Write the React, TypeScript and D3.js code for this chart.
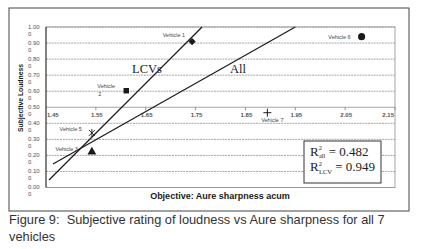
import * as d3 from 'd3';

// values
const vehicles = ['Vehicle 1', 'Vehicle 2', 'Vehicle 3', 'Vehicle 5', 'Vehicle 6', 'Vehicle 7'];
const sharpness = [1.743, 1.611, 1.542, 1.542, 2.083, 1.894];
const loudness = [0.909, 0.603, 0.222, 0.34, 0.94, 0.466];
const markers = ['diamond', 'square', 'triangle', 'asterisk', 'circle', 'plus'];

// trend line end points (sharpness, loudness)
const lcvFitX = [1.456, 1.763];
const lcvFitY = [0.047, 1.0];
const allFitX = [1.464, 1.95];
const allFitY = [0.147, 1.0];

const xTicks = [1.45, 1.55, 1.65, 1.75, 1.85, 1.95, 2.05, 2.15];
const yTicks = [0, 0.1, 0.2, 0.3, 0.4, 0.5, 0.6, 0.7, 0.8, 0.9, 1.0];

const W = 422;
const H = 249;
const plot = { left: 46, right: 395, top: 27, bottom: 187.5 };

// where each label sits relative to its marker
const labelPos: Record<string, { dx: number; dy: number; anchor: string; lines?: string[] }> = {
  'Vehicle 1': { dx: -7, dy: -5, anchor: 'end' },
  'Vehicle 2': { dx: -29, dy: -3, anchor: 'start', lines: ['Vehicle', '2'] },
  'Vehicle 3': { dx: -14, dy: -1, anchor: 'end' },
  'Vehicle 5': { dx: -10, dy: -2, anchor: 'end' },
  'Vehicle 6': { dx: -11, dy: 2, anchor: 'end' },
  'Vehicle 7': { dx: 5, dy: 9, anchor: 'middle' },
};

function Marker({ type, x, y }: { type: string; x: number; y: number }) {
  const fill = '#1a1a1a';
  if (type === 'plus') {
    return <path d={`M${x - 4},${y}H${x + 4}M${x},${y - 4}V${y + 4}`} stroke={fill} strokeWidth={1} fill="none" />;
  }
  if (type === 'asterisk') {
    return (
      <path
        d={`M${x - 3},${y - 3}L${x + 3},${y + 3}M${x - 3},${y + 3}L${x + 3},${y - 3}M${x},${y - 4}V${y + 4}`}
        stroke={fill}
        strokeWidth={0.9}
        fill="none"
      />
    );
  }
  const sym = {
    diamond: d3.symbol().type(d3.symbolSquare).size(26),
    square: d3.symbol().type(d3.symbolSquare).size(30),
    triangle: d3.symbol().type(d3.symbolTriangle).size(34),
    circle: d3.symbol().type(d3.symbolCircle).size(40),
  }[type]!;
  const rot = type === 'diamond' ? ' rotate(45)' : '';
  return <path d={sym() ?? ''} transform={`translate(${x},${y})${rot}`} fill={fill} />;
}

export default function App() {
  const xScale = d3.scaleLinear().domain([1.45, 2.15]).range([plot.left, plot.right]);
  const yScale = d3.scaleLinear().domain([0, 1]).range([plot.bottom, plot.top]);
  const line = d3.line<[number, number]>()
    .x((d) => xScale(d[0]))
    .y((d) => yScale(d[1]));
  const lcvPts = lcvFitX.map((x, i) => [x, lcvFitY[i]] as [number, number]);
  const allPts = allFitX.map((x, i) => [x, allFitY[i]] as [number, number]);
  const axisY = yScale(0.5);
  const sans = "'Liberation Sans', Arial, sans-serif";
  const serif = "'Liberation Serif', 'Times New Roman', serif";

  return (
    <svg
      width={W}
      height={H}
      viewBox={`0 0 ${W} ${H}`}
      style={{ position: 'absolute', left: 0, top: 0, background: '#fff' }}
    >
      <rect x={0} y={0} width={W} height={H} fill="#fff" />
      {/* chart frame */}
      <rect x={9} y={8} width={400} height={203} fill="#fff" stroke="#444" strokeWidth={1} />

      {/* plot area + gridlines */}
      <rect
        x={plot.left}
        y={plot.top}
        width={plot.right - plot.left}
        height={plot.bottom - plot.top}
        fill="#fff"
        stroke="#8c8c8c"
        strokeWidth={0.8}
      />
      {yTicks.map((t) => (
        <g key={`y-${t}`}>
          <line
            x1={plot.left}
            x2={plot.right}
            y1={yScale(t)}
            y2={yScale(t)}
            stroke="#8f8f8f"
            strokeWidth={0.8}
            strokeDasharray={t === 0.5 ? undefined : '2 0.8'}
          />
          <text x={28} y={yScale(t) + 1.5} fontFamily={sans} fontSize={6} fill="#555">
            {t.toFixed(2)}
          </text>
          <text x={28} y={yScale(t) + 8.5} fontFamily={sans} fontSize={6} fill="#555">
            0
          </text>
        </g>
      ))}
      <line x1={plot.left} x2={plot.left} y1={plot.top} y2={plot.bottom} stroke="#333" strokeWidth={1} />

      {/* x axis crossing at 0.5 */}
      {xTicks.map((t, i) => (
        <g key={`x-${t}`}>
          <line x1={xScale(t)} x2={xScale(t)} y1={axisY} y2={axisY + 3} stroke="#777" strokeWidth={0.8} />
          <text
            x={i === 0 ? xScale(t) + 1 : i === xTicks.length - 1 ? xScale(t) - 1 : xScale(t) + 1}
            y={axisY + 10}
            textAnchor={i === 0 ? 'start' : i === xTicks.length - 1 ? 'end' : 'middle'}
            fontFamily={sans}
            fontSize={6}
            fontWeight="bold"
            fill="#555"
          >
            {t.toFixed(2)}
          </text>
        </g>
      ))}

      {/* trend lines */}
      <path d={line(lcvPts) ?? ''} stroke="#1a1a1a" strokeWidth={1.2} fill="none" />
      <path d={line(allPts) ?? ''} stroke="#1a1a1a" strokeWidth={1.2} fill="none" />
      <text x={132} y={73} fontFamily={serif} fontSize={12.5} fill="#222">LCVs</text>
      <text x={230} y={73} fontFamily={serif} fontSize={12.5} fill="#222">All</text>

      {/* vehicles */}
      {vehicles.map((name, i) => {
        const x = xScale(sharpness[i]);
        const y = yScale(loudness[i]);
        const lp = labelPos[name];
        const lines = lp.lines ?? [name];
        return (
          <g key={name}>
            <Marker type={markers[i]} x={x} y={y} />
            {lines.map((l, k) => (
              <text
                key={k}
                x={x + lp.dx + (k > 0 ? 1 : 0)}
                y={y + lp.dy + k * 8}
                textAnchor={lp.anchor}
                fontFamily={sans}
                fontSize={5.5}
                fill="#444"
              >
                {l}
              </text>
            ))}
          </g>
        );
      })}

      {/* R² box */}
      <rect x={304} y={141} width={77} height={42} fill="#fff" stroke="#333" strokeWidth={1} />
      <text x={310} y={155.5} fontFamily={serif} fontSize={13} fill="#222">
        R<tspan fontSize={6.5} dy={-5.5}>2</tspan>
        <tspan fontSize={6.5} dx={-3} dy={8}>all</tspan>
        <tspan dy={-2.5}> = 0.482</tspan>
        <tspan x={310} y={171}>R</tspan>
        <tspan fontSize={6.5} dy={-5.5}>2</tspan>
        <tspan fontSize={6.5} dx={-3} dy={8}>LCV</tspan>
        <tspan dy={-2.5}> = 0.949</tspan>
      </text>

      {/* axis titles */}
      <text
        x={220}
        y={199}
        textAnchor="middle"
        fontFamily={sans}
        fontSize={9}
        fontWeight="bold"
        fill="#1a1a1a"
      >
        Objective: Aure sharpness acum
      </text>
      <text
        transform="translate(22.5,98) rotate(-90)"
        textAnchor="middle"
        fontFamily={sans}
        fontSize={6.8}
        fontWeight="bold"
        fill="#1a1a1a"
      >
        Subjective Loudness
      </text>

      {/* caption */}
      <text x={9} y={223.5} fontFamily={sans} fontSize={12.8} fill="#333">
        Figure 9:{'\u00a0\u00a0'}Subjective rating of loudness vs Aure sharpness for all 7
      </text>
      <text x={9} y={240.5} fontFamily={sans} fontSize={12.8} fill="#333">
        vehicles
      </text>
    </svg>
  );
}
